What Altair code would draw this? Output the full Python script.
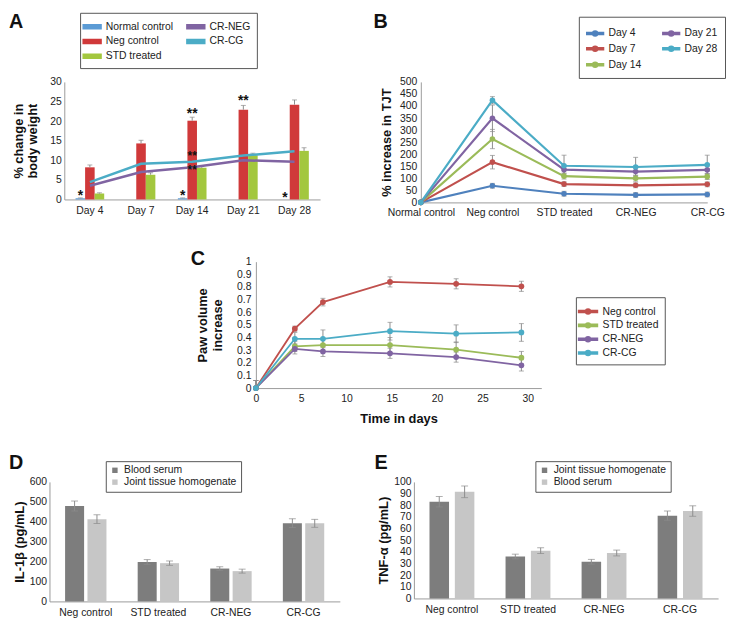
import altair as alt
import pandas as pd

FONT = "Liberation Sans"
BLUE, RED, GREEN, PURPLE, TEAL = "#4f81bd", "#c0504d", "#9bbb59", "#8064a2", "#4bacc6"
BAR_BLUE, BAR_RED, BAR_GREEN = "#5b9bd5", "#d0393a", "#a3c73e"
ERR = "#8c8c8c"
DARK, LIGHT = "#7d7d7d", "#c6c6c6"

# ---------------- Panel A data ----------------
days_a = ["Day 4", "Day 7", "Day 14", "Day 21", "Day 28"]
bar_series_a = ["Normal control", "Neg control", "STD treated"]
normal_a = [0.3, 0.0, 0.3, 0.0, 0.0]
normal_a_err = [0.1, 0.0, 0.1, 0.0, 0.0]
neg_a = [8.2, 14.3, 20.1, 22.9, 24.2]
neg_a_err = [0.6, 0.8, 0.9, 1.1, 1.2]
std_a = [1.5, 6.3, 8.1, 11.3, 12.4]
std_a_err = [0.2, 0.5, 0.5, 0.5, 0.8]
line_series_a = ["CR-NEG", "CR-CG"]
crneg_a = [3.5, 7.0, 8.2, 10.0, 9.6]
crcg_a = [4.4, 9.1, 9.6, 11.2, 12.3]
legend_order_a = ["Normal control", "Neg control", "STD treated", "CR-NEG", "CR-CG"]
legend_colors_a = [BAR_BLUE, BAR_RED, BAR_GREEN, PURPLE, TEAL]
star_day_a = ["Day 4", "Day 14", "Day 28", "Day 14", "Day 21"]
star_series_a = ["Normal control", "Normal control", "Normal control", "Neg control", "Neg control"]
star_y_a = [2.0, 1.9, 1.3, 22.8, 26.2]
star_text_a = ["*", "*", "*", "**", "**"]
mid_star_day_a = ["Day 14"]
mid_star_y_a = [11.9]
mid_star_text_a = ["**\n**"]

# ---------------- Panel B data ----------------
groups_b = ["Normal control", "Neg control", "STD treated", "CR-NEG", "CR-CG"]
days_b = ["Day 4", "Day 7", "Day 14", "Day 21", "Day 28"]
colors_b = [BLUE, RED, GREEN, PURPLE, TEAL]
b_day4 = [0, 69, 36, 31, 33]
b_day7 = [0, 167, 76, 71, 75]
b_day14 = [0, 263, 109, 100, 107]
b_day21 = [0, 349, 136, 128, 135]
b_day28 = [0, 424, 152, 147, 156]
b_err4 = [0, 10, 10, 10, 10]
b_err7 = [0, 28, 10, 10, 10]
b_err14 = [0, 40, 12, 12, 12]
b_err21 = [0, 55, 15, 15, 15]
b_err28 = [0, 15, 44, 40, 40]

# ---------------- Panel C data ----------------
days_c = [0, 4.3, 7.4, 14.8, 22.1, 29.3]
series_c = ["Neg control", "STD treated", "CR-NEG", "CR-CG"]
colors_c = [RED, GREEN, PURPLE, TEAL]
c_neg = [0.0, 0.47, 0.68, 0.84, 0.825, 0.805]
c_std = [0.0, 0.33, 0.34, 0.34, 0.305, 0.24]
c_crneg = [0.0, 0.31, 0.29, 0.275, 0.245, 0.18]
c_crcg = [0.0, 0.39, 0.39, 0.45, 0.43, 0.44]
c_neg_err = [0.06, 0.02, 0.03, 0.04, 0.04, 0.04]
c_std_err = [0.06, 0.04, 0.05, 0.06, 0.06, 0.05]
c_crneg_err = [0.06, 0.04, 0.04, 0.04, 0.04, 0.045]
c_crcg_err = [0.06, 0.05, 0.07, 0.07, 0.07, 0.07]

# ---------------- Panel D data ----------------
groups_d = ["Neg control", "STD treated", "CR-NEG", "CR-CG"]
series_d = ["Blood serum", "Joint tissue homogenate"]
d_blood = [479, 198, 165, 393]
d_blood_err = [25, 12, 9, 22]
d_joint = [413, 192, 152, 392]
d_joint_err = [22, 11, 10, 20]

# ---------------- Panel E data ----------------
groups_e = ["Neg control", "STD treated", "CR-NEG", "CR-CG"]
series_e = ["Joint tissue homogenate", "Blood serum"]
e_joint = [83, 36, 31.5, 71]
e_joint_err = [4.5, 2.0, 2.0, 4.0]
e_blood = [91.5, 41, 39, 75]
e_blood_err = [5.0, 2.5, 2.5, 4.5]


def line_dot_path(a, b, c, r, t):
    return (f"M{a},{-t}H{b}V{t}H{a}Z "
            f"M{c + r},0A{r},{r} 0 1 1 {c - r},0A{r},{r} 0 1 1 {c + r},0Z")


BAR_SYMBOL = "M-1.5,-0.28H1V0.28H-1.5Z"
B_SYMBOL = line_dot_path(-1, 1, 0, 0.3, 0.12)
C_SYMBOL = line_dot_path(-1.6, 1, -0.3, 0.34, 0.14)


def yaxis(values, title, title_pad, label_pad, fmt=None):
    kw = dict(values=values, title=title, titlePadding=title_pad, labelPadding=label_pad,
              labelOverlap=False, labelFlush=False)
    if fmt:
        kw["format"] = fmt
    return alt.Axis(**kw)


def letter(ch, x, y):
    return alt.Chart(pd.DataFrame({"t": [ch]})).mark_text(
        align="left", baseline="alphabetic", fontSize=20, fontWeight="bold",
        font=FONT, color="#111"
    ).encode(x=alt.value(x), y=alt.value(y), text="t:N")


def spacer(w, h=20):
    return alt.Chart(pd.DataFrame({"s": [""]})).mark_text().encode(text="s:N").properties(
        width=w, height=h)


# ======================= Panel A =======================
rows = []
for s, vals, errs in [("Normal control", normal_a, normal_a_err),
                      ("Neg control", neg_a, neg_a_err),
                      ("STD treated", std_a, std_a_err)]:
    for d, v, e in zip(days_a, vals, errs):
        rows.append({"day": d, "series": s, "value": v, "top": v + e})
dfA = pd.DataFrame(rows)
dfA_err = dfA[dfA["top"] > dfA["value"]]
rows = []
for s, vals in [("CR-NEG", crneg_a), ("CR-CG", crcg_a)]:
    for d, v in zip(days_a, vals):
        rows.append({"day": d, "series": s, "value": v})
dfA_line = pd.DataFrame(rows)
dfA_star = pd.DataFrame({"day": star_day_a, "series": star_series_a, "value": star_y_a, "t": star_text_a})
dfA_mid = pd.DataFrame({"day": mid_star_day_a, "value": mid_star_y_a, "t": mid_star_text_a})

xA = alt.X("day:N", scale=alt.Scale(domain=days_a, paddingInner=0.44, paddingOuter=0.22),
           axis=alt.Axis(title=None, labelAngle=0, labelPadding=6))
xoA = alt.XOffset("series:N", scale=alt.Scale(domain=bar_series_a, paddingInner=0, paddingOuter=0))
yA_scale = alt.Scale(domain=[0, 30], nice=False)
yA_axis = yaxis([0, 5, 10, 15, 20, 25, 30], ["% change in", "body weight"], 10, 3)
colA = alt.Color("series:N", scale=alt.Scale(domain=legend_order_a, range=legend_colors_a),
                 legend=alt.Legend(title=None, orient="none", legendX=16, legendY=-70, columns=2,
                                   symbolType=BAR_SYMBOL, symbolSize=210, columnPadding=10,
                                   rowPadding=1, padding=6, labelFontSize=10.5))

barsA = alt.Chart(dfA).mark_bar().encode(
    x=xA, xOffset=xoA, y=alt.Y("value:Q", scale=yA_scale, axis=yA_axis), color=colA)
errA = alt.Chart(dfA_err).mark_rule(color=ERR, strokeWidth=1).encode(
    x=xA, xOffset=xoA, y=alt.Y("value:Q", scale=yA_scale, axis=yA_axis), y2="top:Q")
capA = alt.Chart(dfA_err).mark_tick(color=ERR, thickness=1, size=5, orient="horizontal").encode(
    x=xA, xOffset=xoA, y=alt.Y("top:Q", scale=yA_scale, axis=yA_axis))
linesA = alt.Chart(dfA_line).mark_line(strokeWidth=2.5).encode(
    x=xA, y=alt.Y("value:Q", scale=yA_scale, axis=yA_axis), color=colA)
starA = alt.Chart(dfA_star).mark_text(fontSize=14, fontWeight="bold", baseline="alphabetic", dy=8,
                                      font=FONT, color="#111").encode(
    x=xA, xOffset=xoA, y=alt.Y("value:Q", scale=yA_scale, axis=yA_axis), text="t:N")
midA = alt.Chart(dfA_mid).mark_text(fontSize=12, fontWeight="bold", baseline="alphabetic", dy=7,
                                    lineBreak="\n", lineHeight=14,
                                    font=FONT, color="#111").encode(
    x=xA, y=alt.Y("value:Q", scale=yA_scale, axis=yA_axis), text="t:N")

panelA = alt.layer(barsA, errA, capA, linesA, starA, midA, letter("A", -56, -55)).properties(
    width=259, height=119)

# ======================= Panel B =======================
rows = []
for d, vals, errs in [("Day 4", b_day4, b_err4), ("Day 7", b_day7, b_err7),
                      ("Day 14", b_day14, b_err14), ("Day 21", b_day21, b_err21),
                      ("Day 28", b_day28, b_err28)]:
    for g, v, e in zip(groups_b, vals, errs):
        rows.append({"group": g, "day": d, "value": v, "lo": max(v - e, 0), "hi": v + e})
dfB = pd.DataFrame(rows)
dfB_err = dfB[dfB["hi"] > dfB["value"]]

xB = alt.X("group:N", scale=alt.Scale(domain=groups_b, type="point", padding=0),
           axis=alt.Axis(title=None, labelAngle=0, labelPadding=5))
yB_scale = alt.Scale(domain=[0, 500], nice=False)
yB_axis = yaxis(list(range(0, 501, 50)), "% increase in TJT", 6, 4)
colB = alt.Color("day:N", scale=alt.Scale(domain=days_b, range=colors_b),
                 legend=alt.Legend(title=None, orient="none", legendX=160, legendY=-66, columns=2,
                                   symbolType=B_SYMBOL, symbolSize=289, columnPadding=18,
                                   rowPadding=0, padding=7, labelFontSize=10.5))
errB = alt.Chart(dfB_err).mark_rule(color=ERR, strokeWidth=1).encode(
    x=xB, y=alt.Y("lo:Q", scale=yB_scale, axis=yB_axis), y2="hi:Q")
capB = alt.Chart(dfB_err).mark_tick(color=ERR, thickness=1, size=5, orient="horizontal").encode(
    x=xB, y=alt.Y("hi:Q", scale=yB_scale, axis=yB_axis))
capB2 = alt.Chart(dfB_err).mark_tick(color=ERR, thickness=1, size=5, orient="horizontal").encode(
    x=xB, y=alt.Y("lo:Q", scale=yB_scale, axis=yB_axis))
linesB = alt.Chart(dfB).mark_line(strokeWidth=2.2).encode(
    x=xB, y=alt.Y("value:Q", scale=yB_scale, axis=yB_axis), color=colB)
ptsB = alt.Chart(dfB).mark_point(filled=True, size=32, opacity=1).encode(
    x=xB, y=alt.Y("value:Q", scale=yB_scale, axis=yB_axis), color=colB)
panelB = alt.layer(errB, capB, capB2, linesB, ptsB, letter("B", -48, -55)).properties(
    width=290, height=122)

# ======================= Panel C =======================
rows = []
for s, vals, errs in [("Neg control", c_neg, c_neg_err), ("STD treated", c_std, c_std_err),
                      ("CR-NEG", c_crneg, c_crneg_err), ("CR-CG", c_crcg, c_crcg_err)]:
    for d, v, e in zip(days_c, vals, errs):
        rows.append({"day": d, "series": s, "value": v, "lo": max(v - e, 0), "hi": v + e})
dfC = pd.DataFrame(rows)
xC = alt.X("day:Q", scale=alt.Scale(domain=[0, 31.5], nice=False),
           axis=alt.Axis(values=[0, 5, 10, 15, 20, 25, 30], title="Time in days",
                         labelPadding=6, titlePadding=8, labelOverlap=False, labelFlush=False))
yC_scale = alt.Scale(domain=[0, 1], nice=False)
yC_axis = yaxis([i / 10 for i in range(11)], ["Paw volume", "increase"], 12, 5, fmt="~g")
colC = alt.Color("series:N", scale=alt.Scale(domain=series_c, range=colors_c),
                 legend=alt.Legend(title=None, orient="none", legendX=324, legendY=36,
                                   symbolType=C_SYMBOL, symbolSize=216, rowPadding=0,
                                   padding=6, labelFontSize=10.5))
errC = alt.Chart(dfC).mark_rule(color=ERR, strokeWidth=1).encode(
    x=xC, y=alt.Y("lo:Q", scale=yC_scale, axis=yC_axis), y2="hi:Q")
capC = alt.Chart(dfC).mark_tick(color=ERR, thickness=1, size=5, orient="horizontal").encode(
    x=xC, y=alt.Y("hi:Q", scale=yC_scale, axis=yC_axis))
capC2 = alt.Chart(dfC).mark_tick(color=ERR, thickness=1, size=5, orient="horizontal").encode(
    x=xC, y=alt.Y("lo:Q", scale=yC_scale, axis=yC_axis))
linesC = alt.Chart(dfC).mark_line(strokeWidth=1.8).encode(
    x=xC, y=alt.Y("value:Q", scale=yC_scale, axis=yC_axis), color=colC)
ptsC = alt.Chart(dfC).mark_point(filled=True, size=34, opacity=1).encode(
    x=xC, y=alt.Y("value:Q", scale=yC_scale, axis=yC_axis), color=colC)
panelC = alt.layer(errC, capC, capC2, linesC, ptsC, letter("C", -66, 3)).properties(
    width=289, height=128)


# ======================= Panels D & E =======================
def cytokine_panel(groups, series, vals_list, errs_list, colors, ytitle, ydomain, yvalues,
                   width, height, pad_inner, off_inner, legx, let, letx):
    rows = []
    for s, vals, errs in zip(series, vals_list, errs_list):
        for g, v, e in zip(groups, vals, errs):
            rows.append({"group": g, "series": s, "value": v, "top": v + e, "lo": v - e})
    df = pd.DataFrame(rows)
    x = alt.X("group:N", scale=alt.Scale(domain=groups, paddingInner=pad_inner,
                                         paddingOuter=pad_inner / 2),
              axis=alt.Axis(title=None, labelAngle=0, labelPadding=6))
    xo = alt.XOffset("series:N", scale=alt.Scale(domain=series, paddingInner=off_inner,
                                                 paddingOuter=0))
    ysc = alt.Scale(domain=ydomain, nice=False)
    yax = yaxis(yvalues, ytitle, 3, 3)
    col = alt.Color("series:N", scale=alt.Scale(domain=series, range=colors),
                    legend=alt.Legend(title=None, orient="none", legendX=legx, legendY=-21,
                                      symbolType="square", symbolSize=30, rowPadding=1,
                                      padding=4, labelFontSize=10.5))
    bars = alt.Chart(df).mark_bar().encode(
        x=x, xOffset=xo, y=alt.Y("value:Q", scale=ysc, axis=yax), color=col)
    err = alt.Chart(df).mark_rule(color=ERR, strokeWidth=1).encode(
        x=x, xOffset=xo, y=alt.Y("lo:Q", scale=ysc, axis=yax), y2="top:Q")
    cap = alt.Chart(df).mark_tick(color=ERR, thickness=1, size=7, orient="horizontal").encode(
        x=x, xOffset=xo, y=alt.Y("top:Q", scale=ysc, axis=yax))
    cap2 = alt.Chart(df).mark_tick(color=ERR, thickness=1, size=7, orient="horizontal").encode(
        x=x, xOffset=xo, y=alt.Y("lo:Q", scale=ysc, axis=yax))
    return alt.layer(bars, err, cap, cap2, letter(let, letx, -13)).properties(
        width=width, height=height)


panelD = cytokine_panel(groups_d, series_d, [d_blood, d_joint], [d_blood_err, d_joint_err],
                        [DARK, LIGHT], "IL-1β (pg/mL)", [0, 600], list(range(0, 601, 100)),
                        294, 121, 0.43, 0.15, 57, "D", -41)
panelE = cytokine_panel(groups_e, series_e, [e_joint, e_blood], [e_joint_err, e_blood_err],
                        [DARK, LIGHT], "TNF-α (pg/mL)", [0, 100], list(range(0, 101, 10)),
                        308, 118, 0.41, 0.23, 123, "E", -40)

res = dict(color="independent", xOffset="independent")


def hc(*charts, spacing):
    return alt.hconcat(*charts, spacing=spacing).resolve_scale(**res).resolve_legend(
        color="independent")


def vc(*charts, spacing):
    return alt.vconcat(*charts, spacing=spacing).resolve_scale(**res).resolve_legend(
        color="independent")


row1 = hc(spacer(1), hc(panelA, panelB, spacing=54), spacing=0)
row2 = hc(spacer(185), panelC, spacing=0)
row3 = hc(spacer(1), hc(panelD, panelE, spacing=35), spacing=0)

chart = vc(row1, vc(row2, row3, spacing=28), spacing=31).properties(
    padding=0).configure_view(stroke=None).configure_axis(
    grid=False, ticks=False, domainColor="#9a9a9a", domainWidth=1,
    labelOverlap=False, labelFlush=False,
    labelFont=FONT, labelFontSize=10.5, labelColor="#222",
    titleFont=FONT, titleFontSize=13, titleFontWeight="bold", titleColor="#111",
).configure_legend(
    labelFont=FONT, labelColor="#222", strokeColor="#555", fillColor="white",
    cornerRadius=0, labelLimit=300,
)

chart.save("out.html", embed_options={"renderer": "svg", "actions": False})
